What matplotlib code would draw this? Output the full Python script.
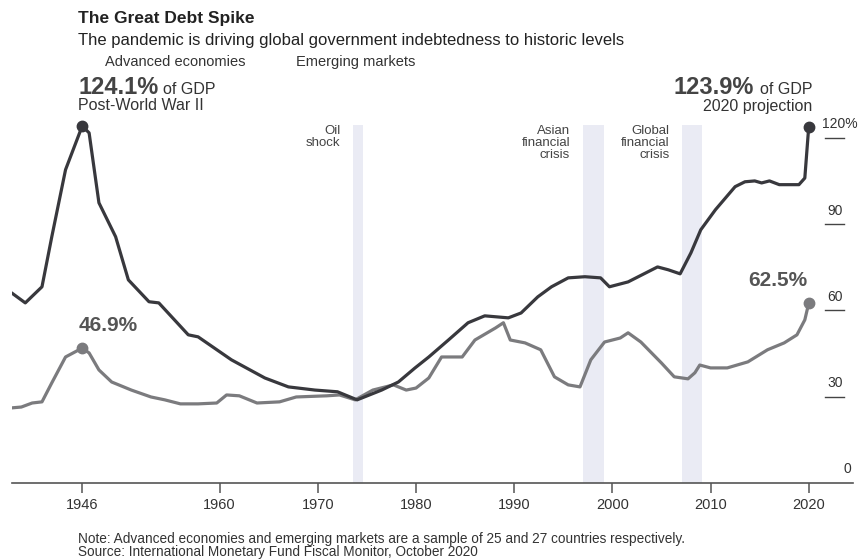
import matplotlib.pyplot as plt

plt.rcParams['font.family'] = ['Liberation Sans', 'DejaVu Sans']

# Government debt, % of GDP
adv_years = [1938.8, 1940.2, 1941.9, 1942.9, 1944.3, 1946, 1946.7, 1947.7, 1949.4, 1950.7,
             1952.8, 1953.8, 1956.8, 1957.8, 1961.2, 1964.6, 1967, 1969.7, 1972, 1974,
             1976.5, 1978.2, 1979.9, 1981.3, 1983.3, 1985.3, 1987, 1989.4, 1990.7, 1992.4,
             1993.8, 1995.5, 1997.2, 1998.8, 1999.7, 2001.6, 2004.6, 2005.7, 2006.9, 2008,
             2009, 2010.5, 2012.5, 2013.5, 2014.5, 2015.2, 2016, 2017, 2019, 2019.6, 2020]
adv_debt = [66.1, 62.6, 68.2, 85.6, 108.9, 124.1, 121.7, 97.4, 85.6, 70.6,
            63.0, 62.6, 51.5, 50.8, 42.8, 36.5, 33.4, 32.3, 31.7, 28.9,
            32.3, 35.1, 40.0, 43.8, 49.7, 55.7, 58.1, 57.4, 59.1, 64.7,
            68.2, 71.3, 71.7, 71.3, 68.2, 69.9, 75.1, 74.1, 72.7, 80.0,
            88.0, 95.0, 103.0, 104.7, 105.0, 104.3, 105.0, 103.7, 103.7, 106.0, 123.9]

em_years = [1938.8, 1939.8, 1940.9, 1941.9, 1942.9, 1944.3, 1946, 1946.7, 1947.7, 1949,
            1951, 1953, 1954.4, 1956, 1957.8, 1959.7, 1960.7, 1962, 1963.8, 1966.1,
            1967.8, 1970.9, 1972.2, 1973.8, 1975.6, 1977.7, 1979, 1980, 1981.3, 1982.6,
            1984.7, 1986, 1988.1, 1988.9, 1989.6, 1991.1, 1992.7, 1994.1, 1995.5, 1996.7,
            1997.8, 1999.2, 2000.8, 2001.6, 2002.9, 2005, 2006.3, 2007.7, 2008.4, 2008.9,
            2010, 2011.7, 2013.8, 2015.8, 2017.5, 2018.8, 2019.6, 2020]
em_debt = [26.1, 26.4, 27.8, 28.2, 34.8, 43.8, 46.9, 45.2, 39.3, 35.1,
           32.3, 29.9, 28.9, 27.5, 27.5, 27.8, 30.6, 30.3, 27.8, 28.2,
           29.9, 30.3, 30.6, 28.9, 32.3, 34.1, 32.3, 33.0, 36.5, 43.8,
           43.8, 49.7, 53.9, 55.7, 49.7, 48.7, 46.3, 36.9, 34.1, 33.4,
           42.8, 49.0, 50.4, 52.2, 49.0, 41.7, 36.9, 36.2, 38.3, 41.0,
           40.0, 40.0, 42.1, 46.3, 48.7, 51.5, 56.7, 62.5]

# crisis periods (start, end, label)
crises = [(1973.6, 1974.6, 'Oil\nshock'),
          (1997.0, 1999.1, 'Asian\nfinancial\ncrisis'),
          (2007.1, 2009.1, 'Global\nfinancial\ncrisis')]

x_ticks = [1946, 1960, 1970, 1980, 1990, 2000, 2010, 2020]
y_ticks = [30, 60, 90, 120]

dark = '#38383d'
grey = '#7b7b7e'
band = '#eaebf4'

fig = plt.figure(figsize=(8.66, 5.59), dpi=100)
ax = fig.add_axes([0.0139, 0.136, 0.971, 0.669])
ax.set_xlim(1938.85, 2024.5)
ax.set_ylim(0, 130)

for start, end, label in crises:
    ax.axvspan(start, end, ymin=0, ymax=124.5 / 130, color=band, lw=0, zorder=0)
    ax.text(start - 1.3, 124.3, label, ha='right', va='top', fontsize=9.5,
            color='#444444', linespacing=0.95)

ax.plot(em_years, em_debt, color=grey, lw=2.3, solid_joinstyle='round',
        solid_capstyle='round', zorder=2)
ax.plot(adv_years, adv_debt, color=dark, lw=2.3, solid_joinstyle='round',
        solid_capstyle='round', zorder=3)
ax.plot(em_years[6], em_debt[6], 'o', color=grey, ms=7.5, zorder=4)
ax.plot(em_years[-1], em_debt[-1], 'o', color=grey, ms=7.5, zorder=4)
ax.plot(adv_years[5], adv_debt[5], 'o', color=dark, ms=7.5, zorder=4)
ax.plot(adv_years[-1], adv_debt[-1], 'o', color=dark, ms=7.5, zorder=4)

# value call-outs above the emerging-market end points
ax.text(1945.6, em_debt[6] + 4.5, '46.9%', ha='left', va='bottom', fontsize=15,
        fontweight='bold', color='#555555')
ax.text(2019.9, em_debt[-1] + 4.5, '62.5%', ha='right', va='bottom', fontsize=15,
        fontweight='bold', color='#555555')

# right-hand value scale with short rules
for v in y_ticks:
    ax.plot([2021.7, 2023.6], [v, v], color='#444444', lw=1, clip_on=False)
    lab = '120%' if v == 120 else str(v)
    xl = 2021.4 if v == 120 else 2022.65
    ax.text(xl, v + 2.2, lab, ha='left' if v == 120 else 'center', va='bottom',
            fontsize=10, color='#333333', clip_on=False)
ax.text(2024.3, 2.5, '0', ha='right', va='bottom', fontsize=10, color='#333333')

for s in ['top', 'right', 'left']:
    ax.spines[s].set_visible(False)
ax.spines['bottom'].set_color('#555555')
ax.spines['bottom'].set_linewidth(1.2)
ax.set_yticks([])
ax.set_xticks(x_ticks)
ax.tick_params(axis='x', length=7, width=1.1, color='#555555', labelsize=10.5,
               labelcolor='#333333', pad=4)


def px(x, y):
    return x / 866, 1 - y / 559


fig.text(*px(78, 18), 'The Great Debt Spike', fontsize=12.5, fontweight='bold',
         color='#222222', va='center')
fig.text(*px(78, 40), 'The pandemic is driving global government indebtedness to historic levels',
         fontsize=12, color='#222222', va='center')
fig.text(*px(105, 62), 'Advanced economies', fontsize=10.5, color='#333333', va='center')
fig.text(*px(296, 62), 'Emerging markets', fontsize=10.5, color='#333333', va='center')

renderer = fig.canvas.get_renderer()

big_left = fig.text(*px(78, 88), '124.1%', fontsize=17, fontweight='bold',
                    color='#444444', va='center')
x_end = big_left.get_window_extent(renderer).x1
fig.text(x_end / 866 + 0.006, 1 - 89 / 559, 'of GDP', fontsize=11.5, color='#333333',
         va='center')
fig.text(*px(78, 106), 'Post-World War II', fontsize=11.5, color='#333333', va='center')

gdp_right = fig.text(*px(812, 89), 'of GDP', fontsize=11.5, color='#333333',
                     va='center', ha='right')
x_start = gdp_right.get_window_extent(renderer).x0
fig.text(x_start / 866 - 0.006, 1 - 88 / 559, '123.9%', fontsize=17, fontweight='bold',
         color='#444444', va='center', ha='right')
fig.text(*px(812, 106), '2020 projection', fontsize=11.5, color='#333333', va='center',
         ha='right')

fig.text(*px(78, 539), 'Note: Advanced economies and emerging markets are a sample of 25 and 27 '
         'countries respectively.', fontsize=9.8, color='#333333', va='center')
fig.text(*px(78, 552), 'Source: International Monetary Fund Fiscal Monitor, October 2020',
         fontsize=9.8, color='#333333', va='center')

fig.savefig('out.png', dpi=100)
